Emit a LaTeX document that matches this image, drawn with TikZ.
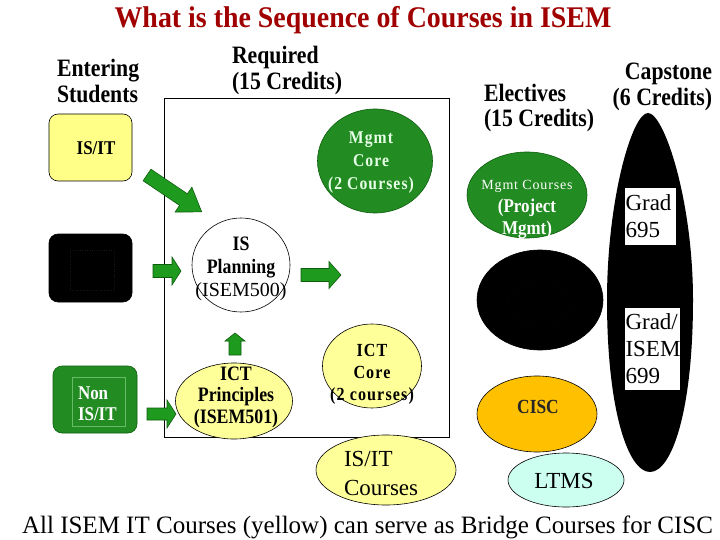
\documentclass[tikz,border=0pt]{standalone}
\usepackage{fontspec}
\setmainfont{Liberation Serif}
\newfontfamily\spacedserif[LetterSpace=6]{Liberation Serif}
\newfontfamily\condserif[FakeStretch=0.87]{Liberation Serif}
\newfontfamily\condspaced[FakeStretch=0.87,LetterSpace=6]{Liberation Serif}
\newfontfamily\titleserif[FakeStretch=0.93]{Liberation Serif}
\usetikzlibrary{shapes.geometric,arrows.meta}
\definecolor{titlered}{HTML}{A00000}
\definecolor{softyellow}{HTML}{FFFF99}
\definecolor{boxyellow}{HTML}{FFFF88}
\definecolor{mgreen}{HTML}{228B22}
\definecolor{agreen}{HTML}{1E9A1E}
\definecolor{adark}{HTML}{0E5E0E}
\definecolor{ciscorange}{HTML}{FFC000}
\definecolor{ltmscyan}{HTML}{CCFFF0}
\definecolor{palegreen}{HTML}{E6FFE6}
\definecolor{innergreen}{HTML}{66BB66}
\definecolor{faintgray}{HTML}{161616}
\newcommand\fs[2]{\fontsize{#1}{#2}\selectfont}
% tail x, tail y, angle, length, shaft half width, head half width, head length
\newcommand\blockarrow[7]{%
  \begin{scope}[shift={(#1,#2)},rotate=#3]
    \filldraw[fill=agreen,draw=adark,line width=0.6pt]
      (0,-#5) -- ({#4-#7},-#5) -- ({#4-#7},-#6) -- (#4,0) -- ({#4-#7},#6) -- ({#4-#7},#5) -- (0,#5) -- cycle;
  \end{scope}}
\begin{document}
\begin{tikzpicture}[x=1pt,y=-1pt,
  every node/.style={inner sep=0pt,outer sep=0pt},
  heading/.style={font=\condserif\bfseries\fs{25}{25.5},align=left},
  courseell/.style={ellipse,draw=black,line width=0.6pt},
  entrybox/.style={rectangle,rounded corners=9pt,draw=black,line width=0.6pt},
  whitebox/.style={rectangle,fill=white,align=left,font=\fs{23}{27}}
]
\useasboundingbox[fill=white] (0,0) rectangle (720,540);

% title and headings
\node[font=\titleserif\bfseries\fs{30}{32},text=titlered] (title) at (363,20) {What is the Sequence of Courses in ISEM};
\node[heading,anchor=west] (enter) at (57,81) {Entering\\Students};
\node[heading,anchor=west] (reqh) at (232,70.5) {Required\\(15 Credits)};
\node[heading,anchor=west] (elech) at (484,108) {Electives\\(15 Credits)};
\node[heading,anchor=east,align=right] (caph) at (712,87) {Capstone\\(6 Credits)};

% required frame
\node[draw=black,line width=0.6pt,minimum width=285pt,minimum height=339pt] (reqbox) at (306.5,267.5) {};

% entering students boxes
\node[entrybox,fill=boxyellow,minimum width=83pt,minimum height=67pt] (isit) at (90.5,147.5) {};
\node[font=\condserif\bfseries\fs{19.5}{20}] (isitt) at (96,148) {IS/IT};

\node[entrybox,fill=black,minimum width=83pt,minimum height=68pt] (biz) at (90.5,268) {};
\node[draw=faintgray,dotted,minimum width=44pt,minimum height=40pt] (bizin) at (92,270) {};

\node[entrybox,fill=mgreen,draw=adark,minimum width=84pt,minimum height=67pt] (nonit) at (95,399.5) {};
\node[draw=innergreen,line width=0.5pt,minimum width=53pt,minimum height=49pt] (nonitin) at (98.5,401.5) {};
\node[font=\condserif\bfseries\fs{19.5}{21.5},text=white,align=left,anchor=west] (nonitt) at (78,403.5) {Non\\IS/IT};

% required courses
\node[courseell,fill=white,minimum width=98pt,minimum height=94pt] (plan) at (241,265) {};
\node[align=center,font=\fs{18}{23}] (plant) at (241,269) {{\condserif\bfseries\fs{20.5}{23}IS}\\{\condserif\bfseries\fs{20.5}{23}Planning}\\{\fs{20}{23}(ISEM500)}};

\node[courseell,fill=mgreen,draw=adark,minimum width=115pt,minimum height=104pt] (mcore) at (375,161) {};
\node[align=center,font=\condspaced\bfseries\fs{18}{23},text=palegreen] (mcoret) at (371,163) {Mgmt\\Core\\(2 Courses)};

\node[courseell,fill=softyellow,minimum width=117pt,minimum height=76pt] (ictp) at (234,401) {};
\node[align=center,font=\condserif\bfseries\fs{20.5}{21.5}] (ictpt) at (236,397) {ICT\\Principles\\(ISEM501)};

\node[courseell,fill=softyellow,minimum width=99pt,minimum height=84pt] (ictc) at (372,366) {};
\node[align=center,font=\condspaced\bfseries\fs{18.5}{22}] (ictct) at (372,374) {ICT\\Core\\(2 courses)};

\node[courseell,fill=softyellow,minimum width=140pt,minimum height=70pt] (isitc) at (386,470) {};
\node[align=left,anchor=west,font=\fs{23}{29}] (isitct) at (344,473) {IS/IT\\Courses};

% electives
\node[courseell,fill=mgreen,draw=adark,minimum width=120pt,minimum height=86pt] (mcourse) at (527,195) {};
\node[align=center,text=white,font=\fs{16}{22.5}] (mcourset) at (527,210) {{\spacedserif\fs{14}{22.5}Mgmt Courses}\\{\condserif\bfseries\fs{19.5}{22.5}(Project}\\{\condserif\bfseries\fs{19.5}{22.5}Mgmt)}};

\node[courseell,fill=black,minimum width=126pt,minimum height=100pt] (sysan) at (540,300) {};
\node[ellipse,draw=faintgray,dotted,minimum width=64pt,minimum height=42pt] (sysanin) at (540,303) {};

\node[courseell,fill=ciscorange,minimum width=120pt,minimum height=76pt] (cisc) at (537,414) {};
\node[font=\condserif\bfseries\fs{20}{20},text=black!85] (cisct) at (538,407) {CISC};

\node[courseell,fill=ltmscyan,minimum width=116pt,minimum height=54pt] (ltms) at (566,480) {};
\node[font=\fs{23}{26}] (ltmst) at (564,481) {LTMS};

% capstone
\fill[black] (648,113) .. controls (632,113) and (607,200) .. (607,300)
  .. controls (607,410) and (628,472) .. (650,472)
  .. controls (672,472) and (693,410) .. (693,300)
  .. controls (693,200) and (664,113) .. (648,113) -- cycle;
\node[whitebox,anchor=north west,text width=50pt,minimum height=57pt,inner xsep=0.5pt] (g695) at (625,188) {Grad\\695};
\node[whitebox,anchor=north west,text width=54pt,minimum height=82pt,inner xsep=0.5pt] (g699) at (625,308) {Grad/\\ISEM\\699};
\draw[-{Stealth[length=6pt,width=4pt]},line width=0.6pt,shorten >=8pt] (g695.south) -- (g699.north);

% green block arrows
\blockarrow{147}{175}{-34}{66}{7}{15}{22}
\blockarrow{153}{271}{0}{28}{6.5}{14}{9}
\blockarrow{301}{275}{0}{40}{6.5}{13.5}{12}
\blockarrow{147}{414}{0}{29}{6}{14}{9}
\blockarrow{235}{355}{90}{22}{6}{10}{8}

% footer
\node[font=\fs{25}{28}] (footer) at (367.5,527) {All ISEM IT Courses (yellow) can serve as Bridge Courses for CISC};
\end{tikzpicture}
\end{document}
